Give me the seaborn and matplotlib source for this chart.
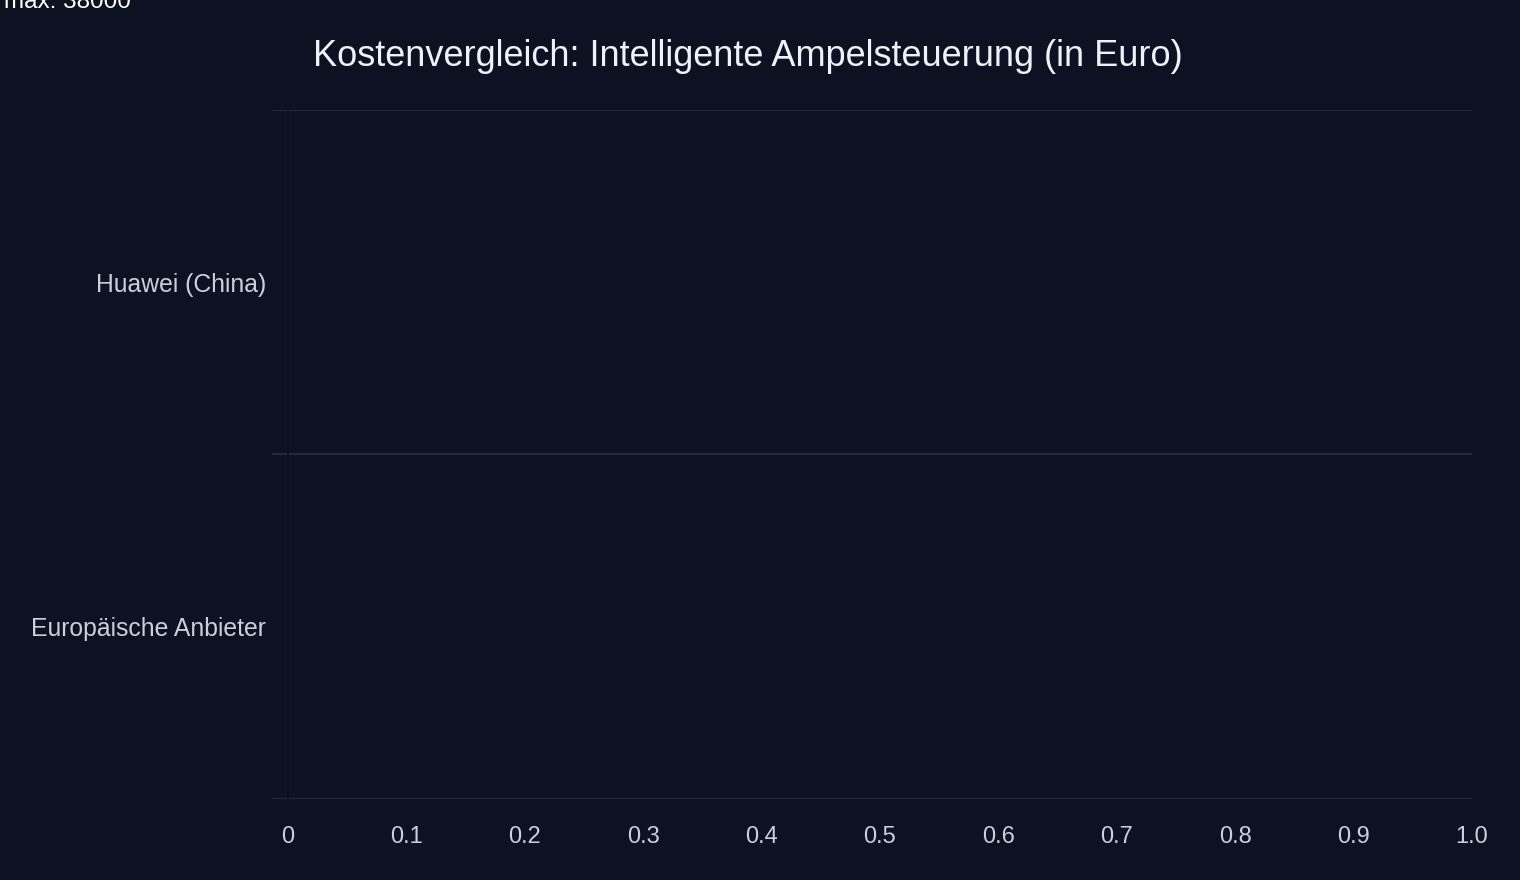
import matplotlib
matplotlib.use("Agg")
import matplotlib.pyplot as plt
import seaborn as sns
import pandas as pd

# Data (bars render at zero length in the reference)
categories = ["Huawei (China)", "Europäische Anbieter"]
costs = [0, 0]
x_ticks = [0, 0.1, 0.2, 0.3, 0.4, 0.5, 0.6, 0.7, 0.8, 0.9, 1.0]
x_tick_labels = ["0", "0.1", "0.2", "0.3", "0.4", "0.5", "0.6", "0.7", "0.8", "0.9", "1.0"]
title = "Kostenvergleich: Intelligente Ampelsteuerung (in Euro)"
max_note = "max: 38000"

BG = "#0c1221"
GRID = "#252a39"
TICK = "#c9cfdb"
TITLE = "#eef1f6"

sns.set_theme(style="dark")
plt.rcParams["font.family"] = ["Liberation Sans", "DejaVu Sans"]

df = pd.DataFrame({"Anbieter": categories, "Kosten": costs})

fig = plt.figure(figsize=(15.2, 8.8), dpi=100, facecolor=BG)
ax = fig.add_axes([272 / 1520, 81.5 / 880, 1200 / 1520, 688 / 880])
ax.set_facecolor(BG)

sns.barplot(data=df, x="Kosten", y="Anbieter", orient="h", color="#4c8bf5",
            linewidth=0, edgecolor="none", ax=ax)

ax.set_xlim(-16 / 1184, 1.0)
ax.set_ylim(1.5, -0.5)

for sp in ax.spines.values():
    sp.set_visible(False)

ax.set_xticks(x_ticks)
ax.set_xticklabels(x_tick_labels)
ax.set_yticks(range(len(categories)))
ax.set_yticklabels(categories)
ax.set_yticks([-0.5, 0.5, 1.5], minor=True)
ax.grid(False)
ax.grid(True, which="minor", axis="y", color=GRID, linewidth=1.5)
ax.axvline(0, color="#0a0f1b", linewidth=1.2, zorder=3)

ax.tick_params(axis="x", length=0, pad=20, labelsize=17, labelcolor=TICK)
ax.tick_params(axis="y", which="major", length=0, pad=4.3, labelsize=17.8, labelcolor=TICK)
ax.tick_params(axis="y", which="minor", length=0)
ax.set_xlabel("")
ax.set_ylabel("")

fig.text(748 / 1520, (880 - 66) / 880, title, ha="center", va="baseline",
         fontsize=26, color=TITLE)
fig.text(4 / 1520, (880 - 8) / 880, max_note, ha="left", va="baseline",
         fontsize=17.5, color="white")

fig.savefig("out.png", dpi=100, facecolor=BG)
